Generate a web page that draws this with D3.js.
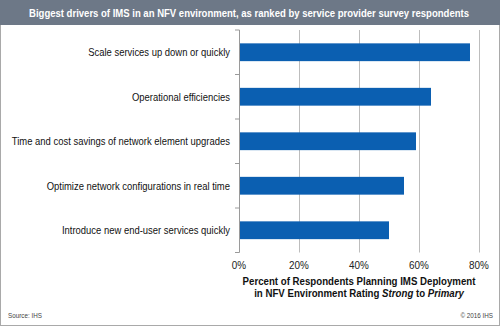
<!DOCTYPE html>
<html>
<head>
<meta charset="utf-8">
<script src="https://cdn.jsdelivr.net/npm/d3@7"></script>
<style>
  body { margin: 0; background: #fff; }
  svg { display: block; font-family: "Liberation Sans", Arial, sans-serif; }
</style>
</head>
<body>
<div id="chart"></div>
<script>
// Data
const categories = [
    "Scale services up down or quickly",
    "Operational efficiencies",
    "Time and cost savings of network element upgrades",
    "Optimize network configurations in real time",
    "Introduce new end-user services quickly"
];
const values = [77, 64, 59, 55, 50];
const xTicks = [0, 20, 40, 60, 80];

const W = 500, H = 326;
const margin = { top: 30, right: 21, bottom: 73.5, left: 239 };
const width = W - margin.left - margin.right;
const height = H - margin.top - margin.bottom;

// the original typeface is narrower than Liberation Sans, so squeeze text horizontally
const squeeze = 0.83;

const svg = d3.select("#chart")
    .append("svg")
    .attr("width", W)
    .attr("height", H);

function label(parent, x, y, k) {
    return parent.append("g")
        .attr("transform", `translate(${x},${y}) scale(${k},1)`)
        .append("text");
}

// outer frame
svg.append("rect")
    .attr("x", 0.5).attr("y", 0.5)
    .attr("width", W - 1).attr("height", H - 1)
    .attr("fill", "#fff")
    .attr("stroke", "#a9a9a9");

// title band
svg.append("rect")
    .attr("x", 0).attr("y", 0)
    .attr("width", W).attr("height", 25)
    .attr("fill", "#6d7887");

label(svg, W / 2 - 1, 17, squeeze)
    .attr("text-anchor", "middle")
    .attr("fill", "#fff")
    .attr("font-size", "11.5px")
    .attr("font-weight", "bold")
    .text("Biggest drivers of IMS in an NFV environment, as ranked by service provider survey respondents");

const g = svg.append("g")
    .attr("transform", `translate(${margin.left},${margin.top})`);

const x = d3.scaleLinear().domain([0, 80]).range([0, width]);
const y = d3.scaleBand().domain(categories).range([0, height]).paddingInner(0.6).paddingOuter(0.3);
const yEdges = d3.scaleBand().domain(categories).range([0, height]);

// vertical gridlines
g.selectAll(".grid")
    .data(xTicks.slice(1))
    .enter().append("line")
    .attr("x1", d => x(d) + 0.5).attr("x2", d => x(d) + 0.5)
    .attr("y1", 0).attr("y2", height)
    .attr("stroke", "#bdbdbd")
    .attr("stroke-width", 1);

// bars
g.selectAll(".bar")
    .data(values)
    .enter().append("rect")
    .attr("x", x(0) + 1)
    .attr("y", (d, i) => y(categories[i]))
    .attr("width", d => x(d) - x(0) - 1)
    .attr("height", y.bandwidth())
    .attr("fill", "#0b5fb1");

// left axis line with ticks at band edges
g.append("line")
    .attr("x1", 0.5).attr("x2", 0.5)
    .attr("y1", 0).attr("y2", height)
    .attr("stroke", "#9a9a9a");

g.selectAll(".ytick")
    .data(categories.concat([null]))
    .enter().append("line")
    .attr("x1", -4).attr("x2", 0.5)
    .attr("y1", (d, i) => i < categories.length ? yEdges(d) : height)
    .attr("y2", (d, i) => i < categories.length ? yEdges(d) : height)
    .attr("stroke", "#9a9a9a");

// category labels
categories.forEach(c => {
    label(g, -9, y(c) + y.bandwidth() / 2, 0.86)
        .attr("dy", "0.35em")
        .attr("text-anchor", "end")
        .attr("font-size", "11px")
        .attr("fill", "#111")
        .text(c);
});

// x tick labels
xTicks.forEach(t => {
    label(g, x(t), height + 16, 0.9)
        .attr("text-anchor", "middle")
        .attr("font-size", "11px")
        .attr("fill", "#222")
        .text(t + "%");
});

// axis title
label(svg, 359, 285, 0.88)
    .attr("text-anchor", "middle")
    .attr("font-size", "11px")
    .attr("font-weight", "bold")
    .attr("fill", "#111")
    .text("Percent of Respondents Planning IMS Deployment");

const t2 = label(svg, 359, 297, 0.88)
    .attr("text-anchor", "middle")
    .attr("font-size", "11px")
    .attr("font-weight", "bold")
    .attr("fill", "#111");
t2.append("tspan").text("in NFV Environment Rating ");
t2.append("tspan").attr("font-style", "italic").text("Strong");
t2.append("tspan").text(" to ");
t2.append("tspan").attr("font-style", "italic").text("Primary");

// footer
label(svg, 8, 318, 0.9)
    .attr("font-size", "7px")
    .attr("fill", "#444")
    .text("Source: IHS");

label(svg, 493, 318, 0.9)
    .attr("text-anchor", "end")
    .attr("font-size", "7px")
    .attr("fill", "#444")
    .text("© 2016 IHS");
</script>
</body>
</html>
